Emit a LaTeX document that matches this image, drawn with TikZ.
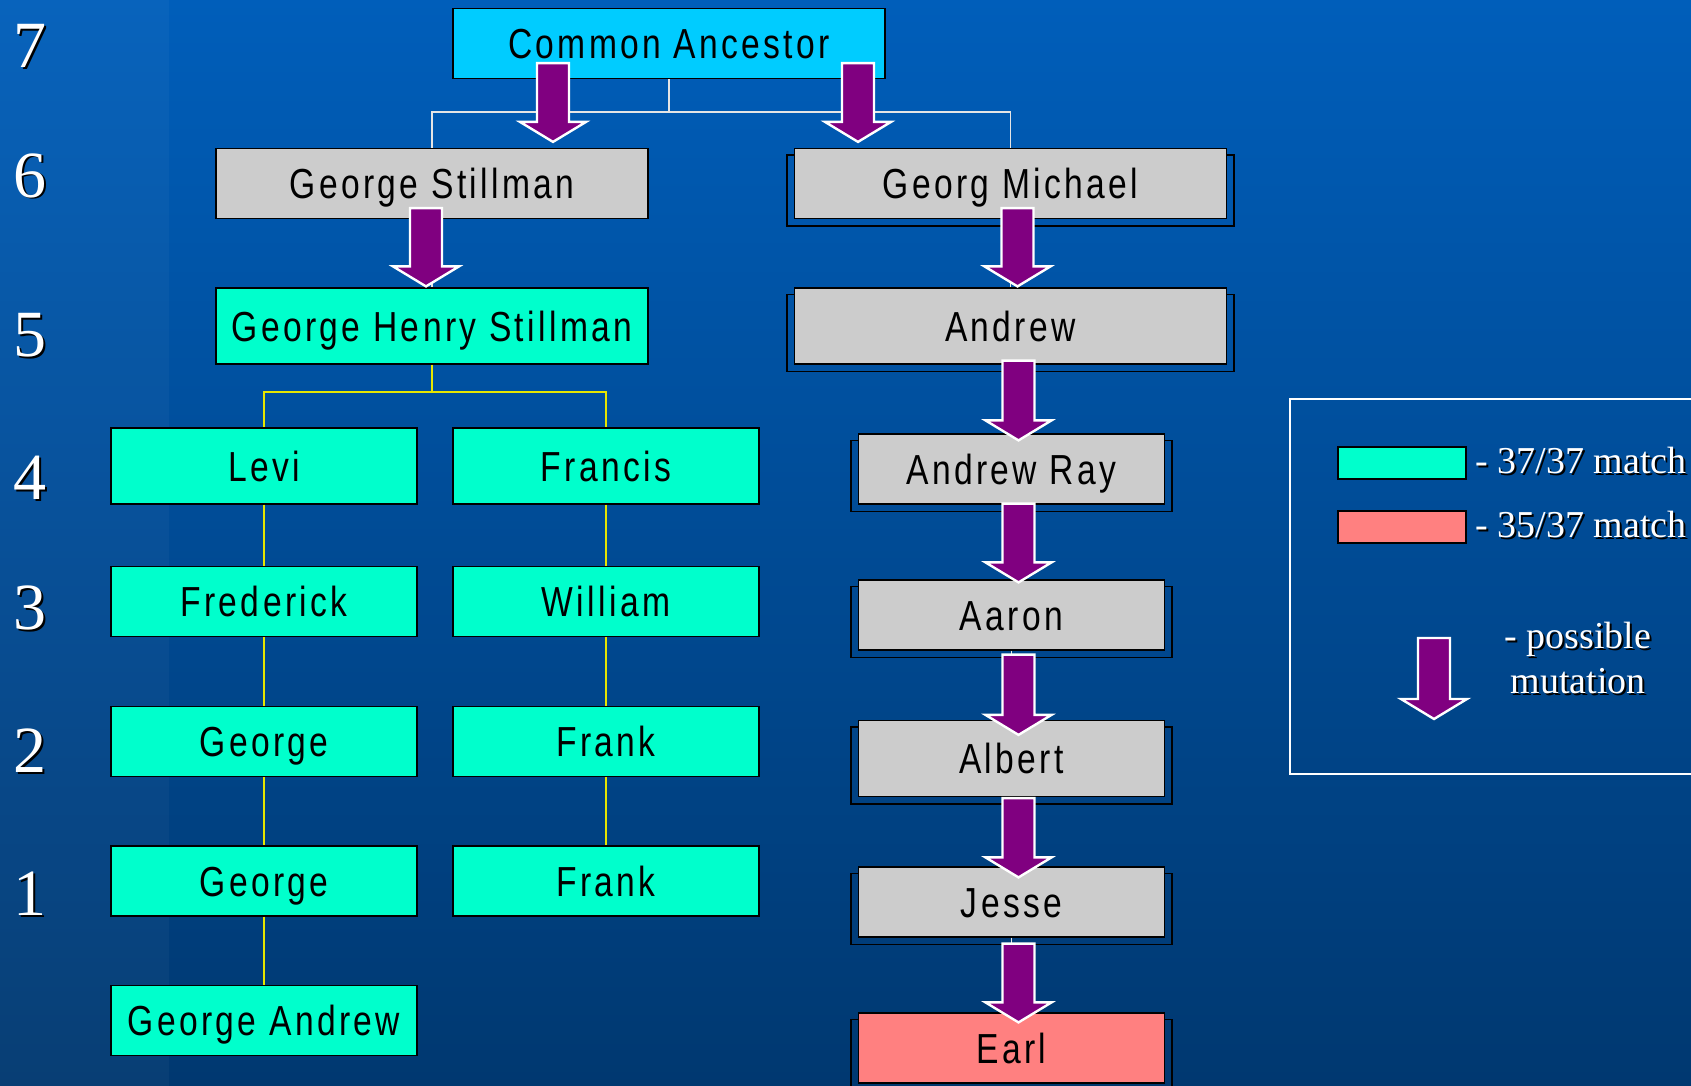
\documentclass[tikz,border=0pt]{standalone}
\usepackage{fontspec}
\setmainfont{Liberation Serif}
\newfontfamily\boxfont{Liberation Sans}[FakeStretch=0.8,LetterSpace=8]
\usetikzlibrary{calc,backgrounds}

\definecolor{bgtop}{RGB}{0,94,186}
\definecolor{bgbot}{RGB}{0,56,112}
\definecolor{cyanbox}{RGB}{0,204,255}
\definecolor{greybox}{RGB}{204,204,204}
\definecolor{fullmatch}{RGB}{0,255,204}
\definecolor{partmatch}{RGB}{255,128,128}
\definecolor{mutcol}{RGB}{128,0,128}
\definecolor{kincol}{RGB}{230,230,0}

\tikzstyle{person}=[draw=black, line width=0.6pt, inner sep=0pt, minimum height=35pt, text height=15pt, text depth=0pt, font={\boxfont\fontsize{21pt}{25pt}\selectfont}]
\tikzstyle{wide}=[minimum width=216pt]
\tikzstyle{narrow}=[minimum width=153pt]
\tikzstyle{tall}=[minimum height=38pt]
\tikzstyle{ancestor}=[fill=cyanbox]
\tikzstyle{unknown}=[fill=greybox]
\tikzstyle{match}=[fill=fullmatch]
\tikzstyle{mismatch}=[fill=partmatch]
\tikzstyle{backbox}=[draw=black, line width=0.8pt]
\tikzstyle{famline}=[draw=white!80!gray, line width=0.75pt]
\tikzstyle{kinline}=[draw=kincol, line width=0.75pt]
\tikzstyle{mutarrow}=[fill=mutcol, draw=white, line width=1.2pt, line join=miter]
\tikzstyle{levelnum}=[anchor=base west, inner sep=0pt, font=\fontsize{33pt}{36pt}\selectfont]
\tikzstyle{keytext}=[anchor=base west, inner sep=0pt, font=\fontsize{19pt}{22.5pt}\selectfont]
\tikzstyle{swatch}=[draw=black, line width=1.2pt, minimum width=64pt, minimum height=16pt, inner sep=0pt]

% white text with a black drop shadow
\newcommand{\shtext}[1]{\makebox[0pt][l]{\kern1pt\raisebox{-1pt}{\color{black}#1}}{\color{white}#1}}

% fat arrow: top of shaft at #1, tip at #2
\newcommand{\mutation}[2]{%
  \draw[mutarrow] let \p1=#1, \p2=#2 in
    (\x2-8pt,\y1) -- (\x2+8pt,\y1) -- (\x2+8pt,\y2+10pt) -- (\x2+16.5pt,\y2+10pt)
    -- (\x2,\y2) -- (\x2-16.5pt,\y2+10pt) -- (\x2-8pt,\y2+10pt) -- cycle;}

\begin{document}
\begin{tikzpicture}[x=0.5pt,y=-0.5pt]
\useasboundingbox (0,0) rectangle (1691,1086);
\begin{pgfonlayer}{background}
\fill[top color=bgtop, bottom color=bgbot] (0,0) rectangle (1691,1086);
\fill[white, opacity=0.03] (0,0) rectangle (169,1086);
\end{pgfonlayer}

% generations
\foreach \lvl/\yy in {7/68,6/197,5/356,4/499,3/629,2/772,1/915}
  \draw (13,\yy) node[levelnum] (lvl\lvl) {\shtext{\lvl}};

\draw (669,43.5) node[person, wide, ancestor] (CA) {Common Ancestor};
\draw (432,183.5) node[person, wide, unknown] (GS) {George Stillman};
\draw (1010.5,183.5) node[person, wide, unknown] (GM) {Georg Michael};
\draw (432,326) node[person, wide, tall, match] (GHS) {George Henry Stillman};
\draw (1010.5,326) node[person, wide, tall, unknown] (AN) {Andrew};

% Stillman branch
\draw (264,466) node[person, narrow, tall, match] (LE) {Levi};
\draw (606,466) node[person, narrow, tall, match] (FR) {Francis};
\draw (264,601.5) node[person, narrow, match] (FD) {Frederick};
\draw (606,601.5) node[person, narrow, match] (WI) {William};
\draw (264,741.5) node[person, narrow, match] (GE2) {George};
\draw (606,741.5) node[person, narrow, match] (FK2) {Frank};
\draw (264,881) node[person, narrow, match] (GE1) {George};
\draw (606,881) node[person, narrow, match] (FK1) {Frank};
\draw (264,1020.5) node[person, narrow, match] (GA) {George Andrew};

% Michael branch
\draw (1011.5,469) node[person, narrow, unknown] (AR) {Andrew Ray};
\draw (1011.5,615) node[person, narrow, unknown] (AA) {Aaron};
\draw (1011.5,758.5) node[person, narrow, tall, unknown] (AL) {Albert};
\draw (1011.5,902) node[person, narrow, unknown] (JE) {Jesse};
\draw (1011.5,1048) node[person, narrow, mismatch] (EA) {Earl};

\begin{pgfonlayer}{background}
\foreach \n in {GM,AN,AR,AA,AL,JE,EA}
  \draw[backbox] ([xshift=-3.5pt,yshift=-3.5pt]\n.south west) rectangle ([xshift=3.5pt,yshift=-3.5pt]\n.north east);
\end{pgfonlayer}

% family lines
\coordinate (CAfork) at (669,112);
\draw[famline] (CA.south) -- (CAfork) -| (GS.north);
\draw[famline] (CAfork) -| (GM.north);
\draw[famline] (GS.south) -- (GHS.north);
\foreach \a/\b in {GM/AN, AN/AR, AR/AA, AA/AL, AL/JE, JE/EA}
  \draw[famline] (\a.south) -- (\a.south |- \b.north);

\coordinate (GHSfork) at (432,392);
\draw[kinline] (GHS.south) -- (GHSfork) -| (LE.north);
\draw[kinline] (GHSfork) -| (FR.north);
\draw[kinline] (LE) -- (FD) -- (GE2) -- (GE1) -- (GA);
\draw[kinline] (FR) -- (WI) -- (FK2) -- (FK1);

% mutations
\mutation{([yshift=8pt]CA.south)}{([xshift=60.5pt,yshift=3pt]GS.north)}
\mutation{([yshift=8pt]CA.south)}{([xshift=-76.25pt,yshift=3pt]GM.north)}
\mutation{([yshift=5.5pt]GS.south)}{([xshift=-3pt,yshift=0.5pt]GHS.north)}
\foreach \a/\b/\s/\t in {GM/AN/5.5/0.5, AN/AR/2/-3.5, AR/AA/0.5/-1.5, AA/AL/-2/-7.5, AL/JE/-0.5/-5.5, JE/EA/-3/-5}
  {\mutation{([yshift=\s pt]\a.south)}{([xshift=3.5pt,yshift=\t pt]\b.north)}}

% key
\draw[white, line width=0.75pt] (1290,399) rectangle (1700,774);
\draw (1402,463) node[swatch, match] (keyA) {};
\draw (1402,527) node[swatch, mismatch] (keyB) {};
\draw (1475,473) node[keytext] (keyAtext) {\shtext{- 37/37 match}};
\draw (1475,537) node[keytext] (keyBtext) {\shtext{- 35/37 match}};
\coordinate (keytop) at (1434,638);
\coordinate (keytip) at (1434,719);
\mutation{(keytop)}{(keytip)}
\draw (1578,693) node[keytext, anchor=base, align=center] (keyCtext) {\shtext{- possible}\\\shtext{mutation}};
\end{tikzpicture}
\end{document}
